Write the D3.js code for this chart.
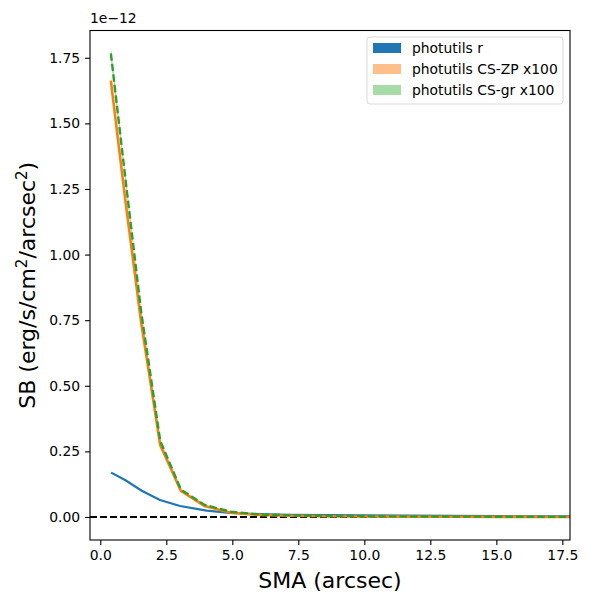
<!DOCTYPE html>
<html>
<head>
<meta charset="utf-8">
<script src="https://cdn.jsdelivr.net/npm/d3@7"></script>
<style>
  body { margin: 0; background: #fff; }
  svg text { font-family: "DejaVu Sans", sans-serif; fill: #000; }
</style>
</head>
<body>
<svg width="600" height="600"></svg>
<script>
// values in units of 1e-12 erg/s/cm^2/arcsec^2
var smaR = [0.41, 0.94, 1.57, 2.26, 3.02, 4.03, 4.91, 6.0, 7.2, 8.5, 10.0, 11.6, 13.3, 15.2, 17.2, 19.3];
var sbR  = [0.169, 0.141, 0.100, 0.065, 0.042, 0.024, 0.016, 0.011, 0.008, 0.007, 0.006, 0.005, 0.004, 0.003, 0.002, 0.002];

var smaCS = [0.40, 0.95, 1.55, 2.27, 3.05, 3.95, 4.95, 6.0, 7.2, 8.5, 10.0, 11.6, 13.3, 15.2, 17.2, 19.3];
var sbZP  = [1.663, 1.206, 0.739, 0.274, 0.100, 0.042, 0.016, 0.008, 0.005, 0.003, 0.002, 0.0015, 0.001, 0.0005, 0.0, 0.0];
var sbGR  = [1.767, 1.290, 0.780, 0.290, 0.105, 0.046, 0.020, 0.010, 0.006, 0.004, 0.003, 0.002, 0.0015, 0.001, 0.0005, 0.0];

var xTicks = [0, 2.5, 5, 7.5, 10, 12.5, 15, 17.5];
var yTicks = [0, 0.25, 0.5, 0.75, 1.0, 1.25, 1.5, 1.75];
var legendLabels = ["photutils r", "photutils CS-ZP x100", "photutils CS-gr x100"];

var svg = d3.select("svg"),
    margin = {top: 30.5, right: 30, bottom: 60, left: 90},
    width = 600 - margin.left - margin.right,
    height = 600 - margin.top - margin.bottom;

var x = d3.scaleLinear().domain([-0.39, 17.79]).range([0, width]),
    y = d3.scaleLinear().domain([-0.0877, 1.854]).range([height, 0]);

var g = svg.append("g")
  .attr("transform", "translate(" + margin.left + "," + margin.top + ")");

g.append("clipPath").attr("id", "clip")
  .append("rect").attr("width", width).attr("height", height);

var plot = g.append("g").attr("clip-path", "url(#clip)");

// zero line
plot.append("line")
  .attr("x1", 0).attr("x2", width)
  .attr("y1", y(0)).attr("y2", y(0))
  .attr("stroke", "#000").attr("stroke-width", 2)
  .attr("stroke-dasharray", "7,3");

var line = d3.line()
  .x(function(d) { return x(d[0]); })
  .y(function(d) { return y(d[1]); });

function pairs(xs, ys) { return xs.map(function(v, i) { return [v, ys[i]]; }); }

// thin shaded bands under the lines
function band(xs, ys, color) {
  var area = d3.area()
    .x(function(d) { return x(d[0]); })
    .y0(function(d) { return y(d[1] * 0.985); })
    .y1(function(d) { return y(d[1] * 1.015); });
  plot.append("path").datum(pairs(xs, ys))
    .attr("d", area).attr("fill", color).attr("fill-opacity", 0.4);
}
band(smaR, sbR, "#1f77b4");
band(smaCS, sbZP, "#ff7f0e");
band(smaCS, sbGR, "#2ca02c");

plot.append("path").datum(pairs(smaR, sbR))
  .attr("d", line).attr("fill", "none")
  .attr("stroke", "#1f77b4").attr("stroke-width", 2.2);

plot.append("path").datum(pairs(smaCS, sbZP))
  .attr("d", line).attr("fill", "none")
  .attr("stroke", "#ff7f0e").attr("stroke-width", 2.6);

plot.append("path").datum(pairs(smaCS, sbGR))
  .attr("d", line).attr("fill", "none")
  .attr("stroke", "#2ca02c").attr("stroke-width", 2.4)
  .attr("stroke-dasharray", "7.4,3.2");

// axes
var xAxis = g.append("g")
  .attr("transform", "translate(0," + height + ")")
  .call(d3.axisBottom(x).tickValues(xTicks).tickFormat(d3.format(".1f")).tickSizeOuter(0).tickSize(4.9).tickPadding(4.9));
var yAxis = g.append("g")
  .call(d3.axisLeft(y).tickValues(yTicks).tickFormat(d3.format(".2f")).tickSizeOuter(0).tickSize(4.9).tickPadding(4.9));

[xAxis, yAxis].forEach(function(a) {
  a.select(".domain").remove();
  a.selectAll("line").attr("stroke", "#000").attr("stroke-width", 1.1);
  a.selectAll("text").style("font-size", "13.9px").style("font-family", "DejaVu Sans");
});

g.append("rect")
  .attr("width", width).attr("height", height)
  .attr("fill", "none").attr("stroke", "#000").attr("stroke-width", 1.1);

// offset text
g.append("text")
  .attr("x", 0).attr("y", -8)
  .style("font-size", "13.9px")
  .text("1e\u221212");

// axis labels
svg.append("text")
  .attr("x", margin.left + width / 2).attr("y", 588)
  .attr("text-anchor", "middle")
  .style("font-size", "22px")
  .text("SMA (arcsec)");

var yl = svg.append("text")
  .attr("transform", "translate(35," + (margin.top + height / 2) + ") rotate(-90)")
  .attr("text-anchor", "middle")
  .style("font-size", "22px");
yl.append("tspan").text("SB (erg/s/cm");
yl.append("tspan").attr("dy", -8).style("font-size", "15px").text("2");
yl.append("tspan").attr("dy", 8).text("/arcsec");
yl.append("tspan").attr("dy", -8).style("font-size", "15px").text("2");
yl.append("tspan").attr("dy", 8).text(")");

// legend
var legendColors = ["#1f77b4", "#ffbf8a", "#a7dba7"];
var lg = svg.append("g").attr("transform", "translate(367,37)");
lg.append("rect")
  .attr("width", 196).attr("height", 67).attr("rx", 3)
  .attr("fill", "#fff").attr("fill-opacity", 0.8)
  .attr("stroke", "#d9d9d9").attr("stroke-width", 1);
legendLabels.forEach(function(t, i) {
  lg.append("rect")
    .attr("x", 6).attr("y", 6 + i * 21)
    .attr("width", 28).attr("height", 10)
    .attr("fill", legendColors[i]);
  lg.append("text")
    .attr("x", 45).attr("y", 16 + i * 21)
    .style("font-size", "13.9px")
    .text(t);
});
</script>
</body>
</html>
